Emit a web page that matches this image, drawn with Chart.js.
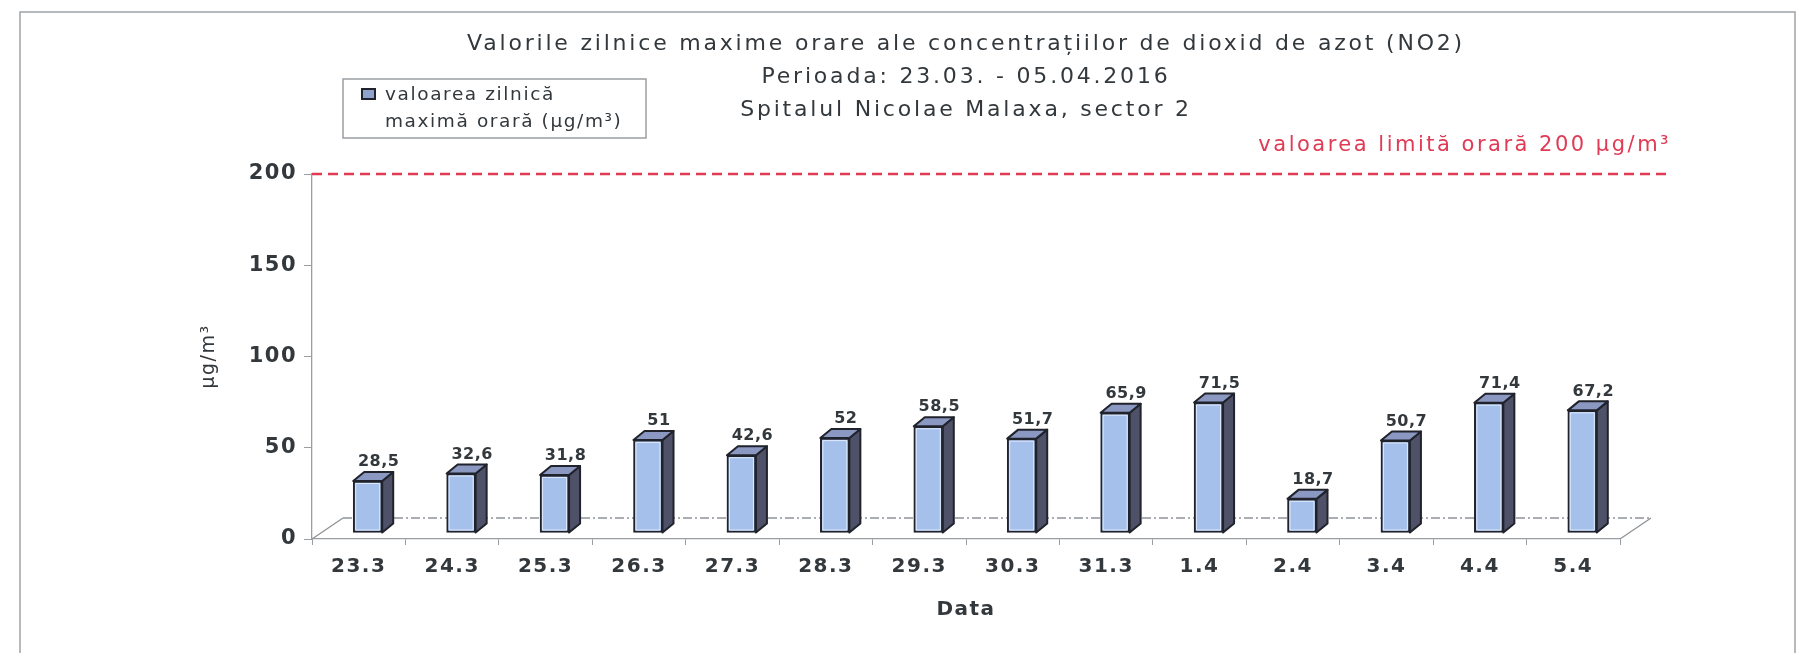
<!DOCTYPE html>
<html>
<head>
<meta charset="utf-8">
<script src="https://cdn.jsdelivr.net/npm/chart.js@4.4.1/dist/chart.umd.min.js"></script>
<style>
  html, body { margin: 0; padding: 0; background: #ffffff; }
  #wrap { width: 1803px; height: 653px; }
</style>
</head>
<body>
<div id="wrap"><canvas id="c" width="1803" height="653"></canvas></div>
<script>
// ---- data ----
const categories = ['23.3','24.3','25.3','26.3','27.3','28.3','29.3','30.3','31.3','1.4','2.4','3.4','4.4','5.4'];
const values = [28.5, 32.6, 31.8, 51, 42.6, 52, 58.5, 51.7, 65.9, 71.5, 18.7, 50.7, 71.4, 67.2];
const yTickValues = [0, 50, 100, 150, 200];
const limitValue = 200;
const titleLines = [
  'Valorile zilnice maxime orare ale concentrațiilor de dioxid de azot (NO2)',
  'Perioada: 23.03. - 05.04.2016',
  'Spitalul Nicolae Malaxa, sector 2'
];
const seriesLabel = 'valoarea zilnică maximă orară (µg/m³)';
const legendLines = ['valoarea zilnică', 'maximă orară (µg/m³)'];
const limitLabel = 'valoarea limită orară 200 µg/m³';
const xAxisTitle = 'Data';
const yAxisTitle = 'µg/m³';

// ---- style ----
const FONT = 'DejaVu Sans';
const TEXT = '#33383c';
const AXIS = '#9a9ea3';
const RED = '#e03a55';
const FRONT = '#a6c0ec';
const SIDE = '#4f5169';
const TOP = '#8a98c2';
const EDGE = '#20232b';
const SHIFT = {x: 9, y: -6};     // bar placement inside the 3D floor
const DEPTH = {x: 11, y: -9};    // bar depth
const FLOOR = {x: 31, y: -21};   // floor depth
const BASE_SPACING = '1.5px';

function spacing(chart, v) { chart.ctx.letterSpacing = v; }

const decor = {
  id: 'decor',
  beforeUpdate(chart) { spacing(chart, BASE_SPACING); },
  beforeLayout(chart) { spacing(chart, BASE_SPACING); },
  beforeDraw(chart) {
    const ctx = chart.ctx;
    spacing(chart, BASE_SPACING);
    ctx.save();
    ctx.fillStyle = '#ffffff';
    ctx.fillRect(0, 0, chart.width, chart.height);
    ctx.strokeStyle = '#a0a4a8';
    ctx.lineWidth = 1.5;
    ctx.beginPath();
    ctx.moveTo(20, chart.height);
    ctx.lineTo(20, 12);
    ctx.lineTo(1795, 12);
    ctx.lineTo(1795, chart.height);
    ctx.stroke();
    // title
    const a = chart.chartArea;
    const cx = (a.left + a.right) / 2;
    ctx.letterSpacing = '2.8px';
    ctx.font = '22px "' + FONT + '"';
    ctx.fillStyle = TEXT;
    ctx.textAlign = 'center';
    ctx.textBaseline = 'middle';
    titleLines.forEach((line, i) => ctx.fillText(line, cx, 44 + i * 33));
    ctx.restore();
    spacing(chart, BASE_SPACING);
  },
  beforeDatasetsDraw(chart) {
    const {ctx, chartArea: a} = chart;
    ctx.save();
    ctx.strokeStyle = '#8e9398';
    ctx.lineWidth = 1.3;
    ctx.beginPath();
    ctx.moveTo(a.left, a.bottom); ctx.lineTo(a.left + FLOOR.x, a.bottom + FLOOR.y);
    ctx.moveTo(a.right, a.bottom); ctx.lineTo(a.right + FLOOR.x, a.bottom + FLOOR.y);
    ctx.stroke();
    ctx.setLineDash([9, 3, 2, 3]);
    ctx.beginPath();
    ctx.moveTo(a.left + FLOOR.x, a.bottom + FLOOR.y);
    ctx.lineTo(a.right + FLOOR.x, a.bottom + FLOOR.y);
    ctx.stroke();
    ctx.restore();
  },
  beforeDatasetDraw(chart) {
    chart.ctx.save();
    chart.ctx.translate(SHIFT.x, SHIFT.y);
  },
  afterDatasetDraw(chart, args) {
    const ctx = chart.ctx;
    const meta = args.meta;
    ctx.lineJoin = 'round';
    ctx.lineWidth = 2;
    ctx.strokeStyle = EDGE;
    meta.data.forEach(el => {
      const p = el.getProps(['x', 'y', 'base', 'width'], true);
      const l = p.x - p.width / 2, r = p.x + p.width / 2, t = p.y, b = p.base;
      ctx.beginPath();
      ctx.moveTo(r, t); ctx.lineTo(r + DEPTH.x, t + DEPTH.y);
      ctx.lineTo(r + DEPTH.x, b + DEPTH.y); ctx.lineTo(r, b); ctx.closePath();
      ctx.fillStyle = SIDE; ctx.fill(); ctx.stroke();
      ctx.beginPath();
      ctx.moveTo(l, t); ctx.lineTo(l + DEPTH.x, t + DEPTH.y);
      ctx.lineTo(r + DEPTH.x, t + DEPTH.y); ctx.lineTo(r, t); ctx.closePath();
      ctx.fillStyle = TOP; ctx.fill(); ctx.stroke();
      ctx.save();
      ctx.strokeStyle = 'rgba(235,242,255,0.8)';
      ctx.lineWidth = 1;
      ctx.strokeRect(l + 2.5, t + 2.5, p.width - 5, b - t - 5);
      ctx.restore();
    });
    ctx.restore();
  },
  afterDatasetsDraw(chart) {
    const {ctx, chartArea: a, scales} = chart;
    const meta = chart.getDatasetMeta(0);
    ctx.save();
    // value labels
    ctx.letterSpacing = '0.5px';
    ctx.font = 'bold 16px "' + FONT + '"';
    ctx.fillStyle = TEXT;
    ctx.textAlign = 'center';
    ctx.textBaseline = 'middle';
    meta.data.forEach((el, i) => {
      const p = el.getProps(['x', 'y'], true);
      ctx.fillText(String(values[i]).replace('.', ','), p.x + SHIFT.x + 11, p.y + SHIFT.y - 19);
    });
    // limit line
    const yl = scales.y.getPixelForValue(limitValue);
    ctx.strokeStyle = RED;
    ctx.lineWidth = 2.5;
    ctx.setLineDash([10, 6]);
    ctx.beginPath();
    ctx.moveTo(a.left, yl);
    ctx.lineTo(1671, yl);
    ctx.stroke();
    ctx.setLineDash([]);
    // limit label
    ctx.letterSpacing = '2.5px';
    ctx.font = '21px "' + FONT + '"';
    ctx.fillStyle = RED;
    ctx.textAlign = 'right';
    ctx.fillText(limitLabel, 1671, yl - 28);
    // legend
    ctx.strokeStyle = '#9a9ea3';
    ctx.lineWidth = 1.5;
    ctx.strokeRect(343, 79, 303, 59);
    ctx.fillStyle = '#8fa3cc';
    ctx.fillRect(362, 89, 13, 10);
    ctx.strokeStyle = EDGE;
    ctx.lineWidth = 2;
    ctx.strokeRect(362, 89, 13, 10);
    ctx.fillStyle = TEXT;
    ctx.textAlign = 'left';
    ctx.letterSpacing = '1.6px';
    ctx.font = '18.5px "' + FONT + '"';
    ctx.fillText(legendLines[0], 385, 95);
    ctx.fillText(legendLines[1], 385, 122);
    ctx.restore();
  }
};

new Chart(document.getElementById('c'), {
  type: 'bar',
  data: {
    labels: categories,
    datasets: [{
      label: seriesLabel,
      data: values,
      backgroundColor: FRONT,
      borderColor: EDGE,
      borderWidth: 2,
      barThickness: 29,
      borderSkipped: false
    }]
  },
  options: {
    responsive: false,
    animation: false,
    devicePixelRatio: 1,
    layout: {padding: {left: 0, right: 183, top: 174, bottom: 0}},
    plugins: {
      legend: {display: false},
      tooltip: {enabled: false},
      title: {display: false, text: titleLines}
    },
    scales: {
      x: {
        type: 'category',
        offset: true,
        grid: {display: true, drawOnChartArea: false, drawTicks: true, tickLength: 6, color: AXIS, offset: true},
        border: {display: true, color: AXIS, width: 1.3},
        ticks: {color: TEXT, font: {family: FONT, size: 20, weight: 'bold'}, padding: 10, maxRotation: 0, autoSkip: false},
        title: {display: true, text: xAxisTitle, color: TEXT, font: {family: FONT, size: 20, weight: 'bold', lineHeight: 1.2}, padding: {top: 0, bottom: 31}},
        afterFit(s) { s.height = 114; }
      },
      y: {
        type: 'linear',
        min: 0,
        max: 200,
        afterBuildTicks(s) { s.ticks = yTickValues.map(v => ({value: v})); },
        grid: {display: true, drawOnChartArea: false, drawTicks: true, tickLength: 8, color: AXIS},
        border: {display: true, color: AXIS, width: 1.3},
        ticks: {color: TEXT, font: {family: FONT, size: 21, weight: 'bold'}, padding: 7},
        title: {display: true, text: yAxisTitle, color: TEXT, font: {family: FONT, size: 19, lineHeight: 1.2}, padding: {top: 198, bottom: 0}},
        afterFit(s) { s.width = 312; }
      }
    }
  },
  plugins: [decor]
});
</script>
</body>
</html>
